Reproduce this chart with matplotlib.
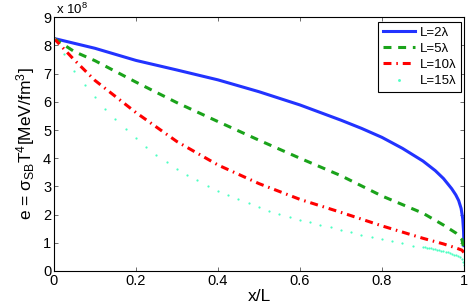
import matplotlib
matplotlib.use('Agg')
import matplotlib.pyplot as plt

plt.rcParams['font.family'] = ['Liberation Sans', 'DejaVu Sans']
plt.rcParams['mathtext.default'] = 'regular'

# energy density, units of 1e8 MeV/fm^3
x_L2 = [0, 0.1, 0.2, 0.3, 0.4, 0.5, 0.6, 0.7, 0.75, 0.8, 0.85, 0.9, 0.93, 0.95, 0.97,
        0.98, 0.987, 0.993, 0.997, 0.999, 1.0]
e_L2 = [8.25, 7.90, 7.47, 7.13, 6.78, 6.36, 5.89, 5.35, 5.06, 4.74, 4.35, 3.90, 3.56, 3.28, 2.92,
        2.70, 2.50, 2.22, 1.85, 1.40, 0.90]

x_L5 = [0, 0.05, 0.1, 0.2, 0.3, 0.4, 0.5, 0.6, 0.7, 0.8, 0.9, 0.95, 0.98, 0.995, 1.0]
e_L5 = [8.25, 7.78, 7.46, 6.70, 5.97, 5.30, 4.64, 4.00, 3.38, 2.66, 2.05, 1.63, 1.35, 1.12, 0.75]

x_L10 = [0, 0.05, 0.1, 0.2, 0.3, 0.4, 0.5, 0.6, 0.7, 0.8, 0.9, 0.95, 0.98, 0.995, 1.0]
e_L10 = [8.25, 7.48, 6.76, 5.62, 4.59, 3.76, 3.10, 2.54, 2.08, 1.60, 1.16, 0.96, 0.82, 0.74, 0.65]

x_L15 = [0, 0.025, 0.05, 0.075, 0.1, 0.125, 0.15, 0.175, 0.2, 0.225, 0.25, 0.275,
         0.3, 0.325, 0.35, 0.375, 0.4, 0.425, 0.45, 0.475, 0.5, 0.525, 0.55, 0.575,
         0.6, 0.625, 0.65, 0.675, 0.7, 0.725, 0.75, 0.775, 0.8, 0.825, 0.85, 0.875,
         0.9, 0.905, 0.91, 0.915, 0.92, 0.925, 0.93, 0.935, 0.94, 0.945, 0.95, 0.955,
         0.96, 0.965, 0.97, 0.975, 0.98, 0.985, 0.99, 0.995, 0.998, 1.0]
e_L15 = [8.25, 7.69, 7.11, 6.61, 6.16, 5.75, 5.38, 5.03, 4.71, 4.39, 4.11, 3.88,
         3.63, 3.42, 3.22, 3.02, 2.85, 2.70, 2.54, 2.40, 2.27, 2.14, 2.02, 1.92,
         1.81, 1.74, 1.64, 1.55, 1.45, 1.37, 1.29, 1.22, 1.14, 1.06, 0.98, 0.90,
         0.86, 0.845, 0.83, 0.815, 0.80, 0.785, 0.77, 0.755, 0.74, 0.72, 0.70, 0.68,
         0.66, 0.64, 0.61, 0.585, 0.56, 0.53, 0.49, 0.42, 0.33, 0.20]

labels = ['L=2λ', 'L=5λ', 'L=10λ', 'L=15λ']

fig = plt.figure(figsize=(4.69, 3.05), dpi=100)
ax = fig.add_axes([0.1151, 0.1115, 0.8742, 0.8318])

ax.plot(x_L2, e_L2, color='#2233ff', lw=2.2, label=labels[0])
ax.plot(x_L5, e_L5, color='#1aa31a', lw=2.2, dashes=(2.6, 2.2), label=labels[1])
ax.plot(x_L10, e_L10, color='#ff0000', lw=2.2, dashes=(2.6, 1.6, 0.5, 1.6), label=labels[2])
ax.plot(x_L15, e_L15, color='#4dffc3', ls='none', marker='o', ms=1.6, mew=0, label=labels[3])

ax.set_xlim(0, 1)
ax.set_ylim(0, 9)
ax.set_xticks([0, 0.2, 0.4, 0.6, 0.8, 1])
ax.set_xticklabels(['0', '0.2', '0.4', '0.6', '0.8', '1'])
ax.set_yticks(range(10))
ax.tick_params(direction='in', top=True, right=True, length=3, width=0.6,
               labelsize=10.5, color='#555555', pad=2)
for s in ax.spines.values():
    s.set_linewidth(0.8)

ax.text(0.006, 1.0, r'x 10$^8$', transform=ax.transAxes, fontsize=9.5, ha='left', va='bottom')
ax.set_xlabel('x/L', fontsize=12.5, labelpad=1)
ax.set_ylabel(r'e = $\sigma_{SB}$T$^4$[MeV/fm$^3$]', fontsize=12.5, labelpad=4)

leg = ax.legend(loc='upper right', bbox_to_anchor=(0.993, 0.982), borderaxespad=0,
                fontsize=9.5, handlelength=2.4, labelspacing=0.3, fancybox=False,
                framealpha=1, edgecolor='black', borderpad=0.35, handletextpad=0.4,
                markerscale=1.3)
leg.get_frame().set_linewidth(0.8)

fig.savefig('out.png', dpi=100)
